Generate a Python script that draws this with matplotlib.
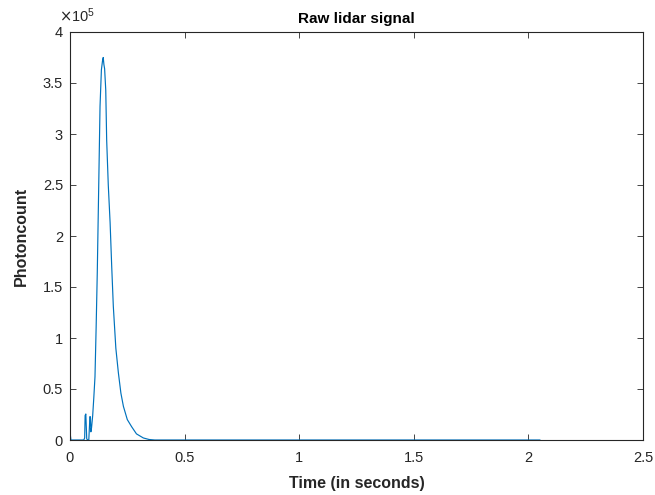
import matplotlib
matplotlib.use("Agg")
import matplotlib.pyplot as plt
from matplotlib.ticker import FixedLocator, FuncFormatter

plt.rcParams['font.family'] = ['Liberation Sans', 'DejaVu Sans']

# time (s) and photon count
time_s = [0.000, 0.004, 0.060, 0.064, 0.066, 0.069, 0.073, 0.078, 0.082, 0.087,
          0.089, 0.091, 0.094, 0.099, 0.104, 0.109, 0.114, 0.119, 0.125, 0.131,
          0.137, 0.142, 0.145, 0.148, 0.151, 0.156, 0.160, 0.167, 0.175, 0.182,
          0.189, 0.200, 0.211, 0.222, 0.233, 0.250, 0.269, 0.290, 0.320, 0.345,
          0.370, 1.000, 2.050]
counts = [8000, 0, 0, 2000, 24000, 25500, 1000, 0, 0, 23000,
          22500, 8000, 12000, 24000, 42000, 62000, 110000, 164000, 245000, 327000,
          363000, 372000, 375000, 368000, 364000, 343000, 294000, 250000, 213000, 170000,
          131000, 90000, 66000, 46000, 33000, 20000, 13000, 6000, 2000, 500,
          0, 0, 0]

xticks = [0, 0.5, 1, 1.5, 2, 2.5]
yticks = [0, 0.5e5, 1e5, 1.5e5, 2e5, 2.5e5, 3e5, 3.5e5, 4e5]

fig = plt.figure(figsize=(6.55, 4.95), dpi=100)
ax = fig.add_axes([70/655, 55/495, (643-70)/655, (440-32)/495])

ax.plot(time_s, counts, color='#0072BD', linewidth=0.85)

ax.set_xlim(0, 2.5)
ax.set_ylim(0, 4e5)
ax.xaxis.set_major_locator(FixedLocator(xticks))
ax.yaxis.set_major_locator(FixedLocator(yticks))
ax.xaxis.set_major_formatter(FuncFormatter(lambda v, p: f"{v:g}"))
ax.yaxis.set_major_formatter(FuncFormatter(lambda v, p: f"{v/1e5:g}"))

axcol = '#262626'
for s in ax.spines.values():
    s.set_color(axcol)
    s.set_linewidth(0.8)
ax.tick_params(direction='in', top=True, right=True, length=4, width=0.6,
               colors=axcol, labelsize=10.5)
ax.tick_params(axis='x', pad=8)
ax.tick_params(axis='y', pad=5)

ax.set_title('Raw lidar signal', fontsize=11, fontweight='bold', color='black', pad=6.5)
ax.set_xlabel('Time (in seconds)', fontsize=11.5, fontweight='bold', color=axcol, labelpad=7.5)
ax.set_ylabel('Photoncount', fontsize=11.5, fontweight='bold', color=axcol, labelpad=10)

ax.text(-11/573, 1.016, r'$\times\mathregular{10^{5}}$', transform=ax.transAxes,
        ha='left', va='bottom', fontsize=10.5, color=axcol)

fig.savefig('out.png', dpi=100, facecolor='white')
